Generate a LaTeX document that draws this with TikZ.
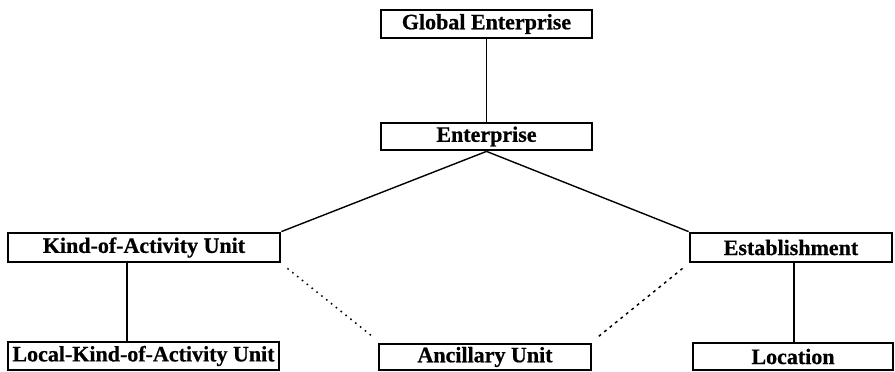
\documentclass[tikz,border=0pt]{standalone}
\usepackage{fontspec}
\setmainfont{Liberation Serif}[BoldFeatures={FakeBold=0.6}]
\begin{document}
\begin{tikzpicture}[x=1pt,y=1pt,
  unitbox/.style={draw, line width=2.8pt, inner sep=0pt, anchor=center,
    font=\fontsize{22}{22}\selectfont\bfseries},
  solidlink/.style={line width=1.4pt},
  dotlink/.style={line width=1.5pt, dash pattern=on 1.6pt off 4.6pt},
  dashlink/.style={line width=1.5pt, dash pattern=on 2.8pt off 4.2pt}]
\useasboundingbox (0,0) rectangle (895,372);
% page rows are measured from the top edge
\node[unitbox, minimum width=211pt, minimum height=28pt] (global) at (486.5,372-24) {Global Enterprise};
\node[unitbox, minimum width=211pt, minimum height=27pt] (ent) at (486.5,372-136.5) {Enterprise};
\node[unitbox, minimum width=272pt, minimum height=29pt] (kau) at (144,372-247.5) {Kind-of-Activity Unit};
\node[unitbox, minimum width=202pt, minimum height=29pt] (est) at (791,372-247.5) {Establishment};
\node[unitbox, minimum width=271pt, minimum height=28pt] (lkau) at (143.5,372-356) {Local-Kind-of-Activity Unit};
\node[unitbox, minimum width=212pt, minimum height=26pt] (anc) at (485,372-357) {Ancillary Unit};
\node[unitbox, minimum width=200pt, minimum height=27pt] (loc) at (793,372-356.5) {Location};
% hierarchy links
\draw[solidlink] (global.south) -- (ent.north);
\draw[solidlink] (ent.south) -- (kau.north east);
\draw[solidlink] (ent.south) -- (est.north west);
\draw[solidlink] ([xshift=-17pt]kau.south) -- ([xshift=-16.5pt]lkau.north);
\draw[solidlink] ([xshift=3pt]est.south) -- ([xshift=3pt]est.south |- loc.north);
% ancillary links
\draw[dotlink] ([shift={(6pt,-5pt)}]kau.south east) -- ([shift={(-5pt,6pt)}]anc.north west);
\draw[dashlink] ([shift={(-6pt,-5pt)}]est.south west) -- ([shift={(6pt,6pt)}]anc.north east);
\end{tikzpicture}
\end{document}
